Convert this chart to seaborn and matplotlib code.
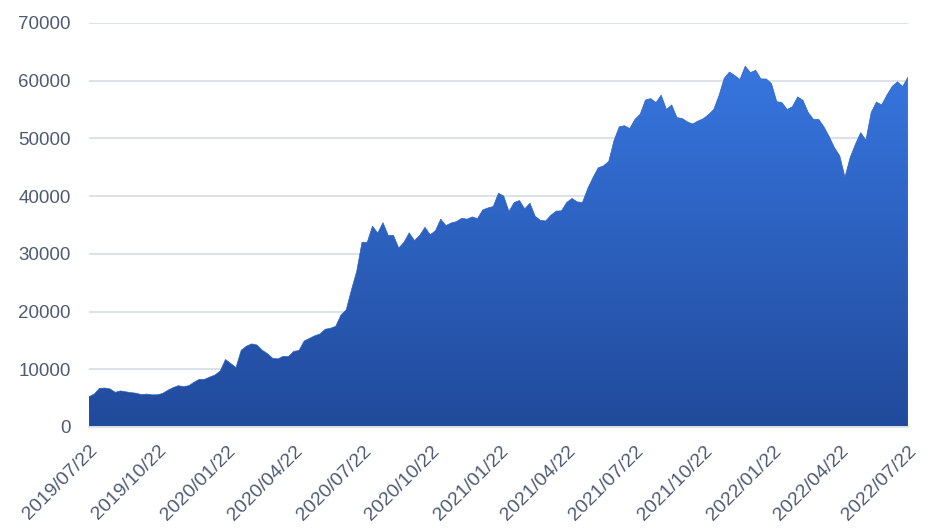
import numpy as np
import pandas as pd
import seaborn as sns
import matplotlib
matplotlib.use("Agg")
import matplotlib.pyplot as plt
import matplotlib.dates as mdates
from matplotlib.colors import LinearSegmentedColormap

# weekly readings of the series, 2019/07/22 .. 2022/07/22
values = [
    5250, 5700, 6700, 6750, 6600, 6010, 6250, 6100, 5950, 5850,
    5600, 5700, 5570, 5580, 5800, 6350, 6800, 7150, 7000, 7150,
    7750, 8250, 8250, 8650, 9000, 9700, 11700, 11000, 10300, 13300,
    14000, 14400, 14200, 13300, 12700, 11900, 11800, 12250, 12200, 13100,
    13250, 14900, 15350, 15800, 16120, 16930, 17100, 17450, 19400, 20300,
    23800, 27000, 32000, 32000, 34800, 33600, 35400, 33200, 33200, 31000,
    32000, 33650, 32300, 33200, 34600, 33300, 34000, 36000, 34900, 35350,
    35580, 36170, 36000, 36400, 36100, 37600, 37950, 38200, 40500, 40000,
    37350, 38900, 39230, 37800, 38770, 36500, 35800, 35700, 36700, 37400,
    37450, 38900, 39600, 39000, 38900, 41300, 43200, 44900, 45250, 46000,
    49600, 52000, 52200, 51700, 53300, 54200, 56650, 56900, 56200, 57500,
    55000, 55800, 53600, 53450, 52850, 52500, 53000, 53400, 54100, 55000,
    57400, 60400, 61500, 60900, 60200, 62500, 61400, 61800, 60300, 60300,
    59500, 56380, 56200, 55000, 55500, 57200, 56600, 54500, 53300, 53300,
    52000, 50300, 48400, 47000, 43300, 46700, 49000, 51000, 49700, 54500,
    56300, 55800, 57500, 59000, 59800, 59000, 60600,
]
dates = pd.date_range("2019-07-22", "2022-07-22", periods=len(values))
tick_labels = ["2019/07/22", "2019/10/22", "2020/01/22", "2020/04/22",
               "2020/07/22", "2020/10/22", "2021/01/22", "2021/04/22",
               "2021/07/22", "2021/10/22", "2022/01/22", "2022/04/22",
               "2022/07/22"]
y_ticks = [0, 10000, 20000, 30000, 40000, 50000, 60000, 70000]

df = pd.DataFrame({"date": dates, "value": values})

sns.set_style("white")
plt.rcParams["font.family"] = ["Liberation Sans", "DejaVu Sans"]

fig = plt.figure(figsize=(9.45, 5.31), dpi=100)
ax = fig.add_axes([0.0942, 0.1959, 0.8666, 0.7608])

top_c, bot_c = "#3776df", "#214a9b"
sns.lineplot(data=df, x="date", y="value", ax=ax, color="#2d62c4",
             linewidth=0.5, zorder=3)

xn = mdates.date2num(df["date"])
poly = ax.fill_between(xn, 0, df["value"], facecolor="none",
                       edgecolor="none", zorder=2)
cmap = LinearSegmentedColormap.from_list("g", [bot_c, top_c])
grad = np.linspace(0, 1, 256).reshape(-1, 1)
vmax = max(values)
im = ax.imshow(grad, extent=[xn[0], xn[-1], 0, vmax], origin="lower",
               aspect="auto", cmap=cmap, zorder=2)
im.set_clip_path(poly.get_paths()[0], transform=ax.transData)

ax.set_xlim(xn[0], xn[-1])
ax.set_ylim(0, 70000)
ax.set_yticks(y_ticks)
ax.set_yticklabels([str(v) for v in y_ticks])
tick_dates = mdates.date2num(pd.to_datetime(tick_labels, format="%Y/%m/%d"))
ax.set_xticks(tick_dates)
ax.set_xticklabels(tick_labels, rotation=45, ha="right", va="top",
                   rotation_mode="anchor")
ax.set_xlabel("")
ax.set_ylabel("")

ax.yaxis.grid(True, color="#dde1e9", linewidth=1.4)
ax.set_axisbelow(True)
for s in ["top", "right", "left"]:
    ax.spines[s].set_visible(False)
ax.spines["bottom"].set_color("#dfe3ea")
ax.spines["bottom"].set_linewidth(1.4)
ax.tick_params(axis="y", length=0, pad=13, labelsize=13.5, labelcolor="#4f5a73")
ax.tick_params(axis="x", length=5, width=1.2, color="#dfe3ea", pad=6,
               labelsize=14, labelcolor="#4f5a73")

fig.savefig("out.png", dpi=100)
